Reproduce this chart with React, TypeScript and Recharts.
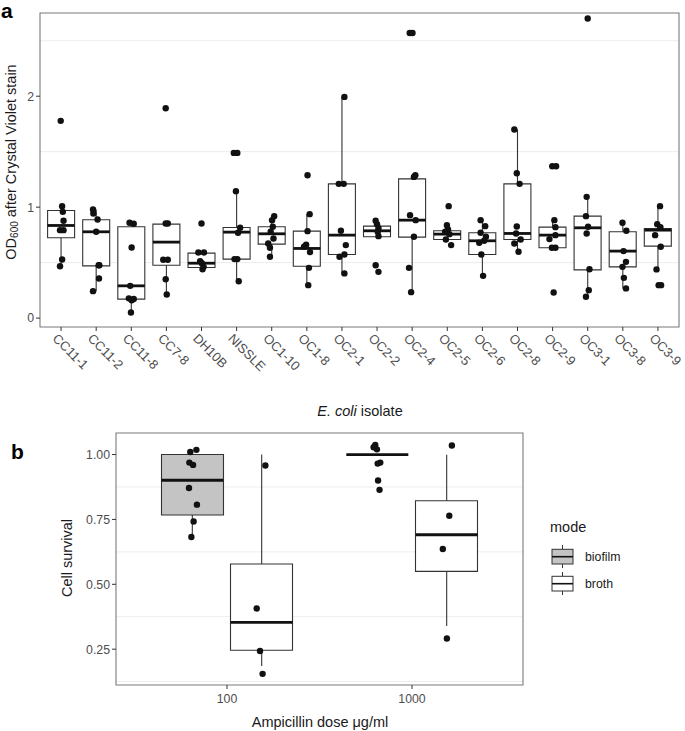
import React from 'react';
import {
  ComposedChart, Bar, Scatter, ErrorBar, XAxis, YAxis, CartesianGrid, ReferenceArea, Legend,
} from 'recharts';

// ---- panel a: OD600 per E. coli isolate ----
const isolates = ['CC11-1', 'CC11-2', 'CC11-8', 'CC7-8', 'DH10B', 'NISSLE', 'OC1-10', 'OC1-8', 'OC2-1', 'OC2-2', 'OC2-4', 'OC2-5', 'OC2-6', 'OC2-8', 'OC2-9', 'OC3-1', 'OC3-8', 'OC3-9'];
const odQ1 = [0.724, 0.471, 0.171, 0.477, 0.456, 0.532, 0.667, 0.468, 0.574, 0.733, 0.73, 0.709, 0.574, 0.709, 0.634, 0.435, 0.462, 0.649];
const odMedian = [0.835, 0.778, 0.291, 0.685, 0.495, 0.775, 0.76, 0.628, 0.748, 0.787, 0.883, 0.757, 0.697, 0.763, 0.748, 0.814, 0.604, 0.793];
const odQ3 = [0.97, 0.886, 0.823, 0.847, 0.586, 0.817, 0.823, 0.784, 1.21, 0.829, 1.255, 0.787, 0.769, 1.21, 0.82, 0.919, 0.778, 0.808];
const odLow = [0.47, 0.243, 0.051, 0.213, 0.441, 0.333, 0.553, 0.297, 0.403, 0.733, 0.234, 0.7, 0.381, 0.598, 0.634, 0.192, 0.268, 0.439];
const odHigh = [1.0, 0.98, 0.86, 0.853, 0.592, 1.144, 0.919, 0.937, 1.994, 0.877, 1.288, 0.84, 0.883, 1.7, 0.883, 1.093, 0.859, 1.009];
const odPoints = [
  [1.778, 1.009, 0.958, 0.877, 0.793, 0.793, 0.529, 0.468],
  [0.979, 0.943, 0.889, 0.778, 0.477, 0.477, 0.357, 0.243],
  [0.86, 0.85, 0.637, 0.291, 0.178, 0.172, 0.16, 0.051],
  [1.892, 0.853, 0.853, 0.526, 0.526, 0.351, 0.213],
  [0.853, 0.592, 0.592, 0.514, 0.495, 0.462, 0.441],
  [1.489, 1.489, 1.144, 0.814, 0.77, 0.532, 0.532, 0.333],
  [0.919, 0.883, 0.823, 0.778, 0.718, 0.673, 0.634, 0.553],
  [1.288, 0.937, 0.784, 0.661, 0.643, 0.595, 0.453, 0.297],
  [1.994, 1.21, 1.21, 0.787, 0.658, 0.574, 0.553, 0.403],
  [0.877, 0.847, 0.81, 0.778, 0.739, 0.477, 0.417],
  [2.57, 2.57, 1.288, 1.273, 0.928, 0.883, 0.733, 0.453, 0.234],
  [1.009, 0.838, 0.8, 0.757, 0.709, 0.658, 0.78],
  [0.883, 0.829, 0.769, 0.733, 0.697, 0.679, 0.574, 0.381],
  [1.7, 1.306, 1.21, 0.826, 0.763, 0.709, 0.673, 0.598],
  [1.369, 1.369, 0.883, 0.82, 0.748, 0.712, 0.634, 0.634, 0.231],
  [2.7, 1.093, 0.919, 0.823, 0.763, 0.441, 0.252, 0.192],
  [0.859, 0.787, 0.604, 0.507, 0.462, 0.363, 0.268],
  [1.009, 0.847, 0.82, 0.748, 0.643, 0.439, 0.297, 0.297],
];
// horizontal jitter of each point, in category units
const odJitter = [
  [-0.01, 0.03, 0.05, 0.07, -0.03, 0.07, 0.03, -0.03],
  [-0.09, -0.08, 0.04, 0, 0.07, 0.09, 0.08, -0.09],
  [-0.05, 0.07, 0.01, -0.03, -0.07, 0.07, 0.01, -0.01],
  [-0.02, -0.02, 0.04, -0.09, 0.04, -0.02, 0.01],
  [0, -0.09, 0.07, -0.04, 0.01, 0.06, 0.03],
  [-0.08, 0.02, -0.02, 0.1, 0.04, -0.06, 0.02, 0.06],
  [0.07, 0.01, 0.03, -0.03, 0.05, -0.1, -0.05, -0.05],
  [0.02, 0.08, 0.02, -0.02, -0.08, 0.09, 0.06, 0.04],
  [0.07, -0.09, 0.05, -0.03, 0.11, 0.07, -0.07, 0.07],
  [-0.04, 0, 0.04, 0.02, 0.04, -0.04, 0.04],
  [-0.07, 0.01, 0.09, 0.05, -0.06, 0.1, 0.05, -0.09, -0.03],
  [0.04, -0.01, 0.02, 0.06, -0.04, 0.11, -0.06],
  [-0.05, 0.08, -0.05, 0.1, 0.05, -0.09, -0.03, 0.02],
  [-0.09, -0.02, 0.06, -0.02, -0.04, 0.09, -0.09, 0.03],
  [-0.01, 0.1, 0.05, 0.08, 0.08, -0.09, -0.02, 0.08, 0.03],
  [0, -0.03, -0.05, 0.01, -0.03, 0.05, 0.03, -0.05],
  [-0.01, 0.1, 0.02, 0.09, -0.01, 0.03, 0.09],
  [0.06, -0.02, 0.07, -0.08, 0.08, -0.04, 0.02, 0.09],
];
const odTicks = [0, 1, 2];
const odMinorGrid = [0.5, 1.5, 2.5];
const odDomain = [-0.08, 2.75];

// ---- panel b: cell survival by ampicillin dose ----
const doses = ['100', '1000'];
const modes = ['biofilm', 'broth'];
const modeFills = ['#c4c4c4', '#ffffff'];
// groups in order: biofilm-100, broth-100, biofilm-1000, broth-1000
const groupDose = [0, 0, 1, 1];
const groupMode = [0, 1, 0, 1];
const survQ1 = [0.767, 0.246, 1.0, 0.55];
const survMedian = [0.901, 0.353, 1.0, 0.691];
const survQ3 = [1.0, 0.578, 1.0, 0.822];
const survLow = [0.69, 0.185, 1.0, 0.339];
const survHigh = [1.0, 1.0, 1.0, 0.999];
const survPoints = [
  [1.018, 1.01, 0.969, 0.96, 0.871, 0.807, 0.742, 0.682],
  [0.958, 0.407, 0.243, 0.155],
  [1.037, 1.028, 1.02, 0.969, 0.965, 0.9, 0.864],
  [1.035, 0.764, 0.636, 0.291],
];
const survJitter = [
  [0.022, -0.011, -0.016, 0.004, -0.018, 0.025, 0.007, -0.005],
  [0.02, -0.027, -0.009, 0.005],
  [-0.011, -0.02, -0.002, 0.016, 0.002, 0.004, 0.012],
  [0.028, 0.014, -0.021, 0.001],
];
const survTicks = [0.25, 0.5, 0.75, 1.0];
const survMinorGrid = [0.125, 0.375, 0.625, 0.875];
const survDomain = [0.112, 1.083];
const dodge = 0.1875;

// ---- derived tables ----
const boxA = isolates.map((name, i) => ({ name, box: [odQ1[i], odQ3[i]] }));
const medianA = isolates.map((_, i) => ({ x: i + 1, y: odMedian[i] }));
const upperA = isolates.map((_, i) => ({ x: i + 1, y: odQ3[i], err: [0, odHigh[i] - odQ3[i]] }));
const lowerA = isolates.map((_, i) => ({ x: i + 1, y: odQ1[i], err: [odQ1[i] - odLow[i], 0] }));
const pointsA = odPoints.flatMap((vals, i) => vals.map((v, j) => ({ x: i + 1 + odJitter[i][j], y: v })));

const groupIdx = (d: number, m: number) => groupDose.findIndex((gd, i) => gd === d && groupMode[i] === m);
const boxB = doses.map((name, d) => {
  const row: any = { name };
  modes.forEach((m, mi) => {
    const g = groupIdx(d, mi);
    row[m] = [survQ1[g], survQ3[g]];
  });
  return row;
});
const groupX = groupDose.map((d, i) => d + 1 + (groupMode[i] === 0 ? -dodge : dodge));
const medianB = groupX.map((x, i) => ({ x, y: survMedian[i] }));
const upperB = groupX.map((x, i) => ({ x, y: survQ3[i], err: [0, survHigh[i] - survQ3[i]] }));
const lowerB = groupX.map((x, i) => ({ x, y: survQ1[i], err: [survQ1[i] - survLow[i], 0] }));
const pointsB = survPoints.flatMap((vals, i) => vals.map((v, j) => ({ x: groupX[i] + survJitter[i][j], y: v })));

const INK = '#1a1a1a';
const TICK = '#4d4d4d';
const BORDER = '#7a7a7a';

const Dot = (p: any) => <circle cx={p.cx} cy={p.cy} r={3.2} fill="#111" />;
const Nothing = () => <g />;
const medianLine = (w: number) => (p: any) => (
  <line x1={p.cx - w / 2} x2={p.cx + w / 2} y1={p.cy} y2={p.cy} stroke="#111" strokeWidth={2.8} />
);

const IsolateTick = (p: any) => {
  const x = p.x - 6;
  const y = p.y + 3;
  return (
    <text x={x} y={y} transform={`rotate(45 ${x} ${y})`} textAnchor="start" dy="0.35em" fontSize={13} fill={TICK}>
      {isolates[p.payload.value - 1]}
    </text>
  );
};

const ModeLegend = () => (
  <svg width={110} height={85}>
    <text x={2} y={17} fontSize={14.5} fill={INK}>mode</text>
    {modes.map((m, i) => {
      const top = 30 + i * 27;
      return (
        <g key={m}>
          <line x1={14.5} x2={14.5} y1={top} y2={top + 23} stroke="#333" strokeWidth={1} />
          <rect x={4} y={top + 4.3} width={21} height={14.7} fill={modeFills[i]} stroke="#333" strokeWidth={1} />
          <line x1={4} x2={25} y1={top + 11.7} y2={top + 11.7} stroke="#111" strokeWidth={1.6} />
          <text x={37} y={top + 12} dy="0.35em" fontSize={12.3} fill={INK}>{m}</text>
        </g>
      );
    })}
  </svg>
);

const whisker = <ErrorBar dataKey="err" direction="y" width={0} stroke="#333" strokeWidth={1.1} isAnimationActive={false} />;

export default function App() {
  return (
    <div style={{ position: 'absolute', left: 0, top: 0, width: 685, height: 731, background: '#fff', fontFamily: '"Liberation Sans", Arial, sans-serif' }}>
      <div style={{ position: 'absolute', left: 0, top: 0 }}>
        <ComposedChart width={685} height={425} data={boxA} margin={{ top: 13, right: 6, bottom: 13, left: 0 }}>
          <CartesianGrid xAxisId="num" vertical={false} horizontalValues={odMinorGrid} stroke="#ececec" strokeWidth={1} />
          <XAxis xAxisId="cat" type="category" dataKey="name" hide orientation="top" height={0} padding={{ left: 3.6, right: 3.6 }} />
          <XAxis xAxisId="num" type="number" dataKey="x" domain={[0.4, 18.6]} ticks={isolates.map((_, i) => i + 1)} interval={0}
            allowDataOverflow axisLine={false} tickSize={4} tickLine={{ stroke: '#333' }} tick={<IsolateTick />} height={85} />
          <YAxis type="number" dataKey="y" domain={odDomain} ticks={odTicks} allowDataOverflow width={40}
            axisLine={false} tickSize={4} tickLine={{ stroke: '#333' }} tick={{ fontSize: 12.3, fill: TICK }} />
          <Bar xAxisId="cat" dataKey="box" barSize={27} fill="#fff" stroke="#333" strokeWidth={1.1} isAnimationActive={false} />
          <Scatter xAxisId="num" data={upperA} shape={Nothing} isAnimationActive={false}>{whisker}</Scatter>
          <Scatter xAxisId="num" data={lowerA} shape={Nothing} isAnimationActive={false}>{whisker}</Scatter>
          <Scatter xAxisId="num" data={medianA} shape={medianLine(27)} isAnimationActive={false} />
          <Scatter xAxisId="num" data={pointsA} shape={Dot} isAnimationActive={false} />
          <ReferenceArea xAxisId="num" x1={0.4} x2={18.6} y1={odDomain[0]} y2={odDomain[1]} fill="none" fillOpacity={0} stroke={BORDER} strokeWidth={1.1} />
        </ComposedChart>
      </div>

      <div style={{ position: 'absolute', left: 0, top: 420 }}>
        <ComposedChart width={685} height={311} data={boxB} barGap={7} margin={{ top: 13, right: 162, bottom: 16, left: 0 }}>
          <CartesianGrid xAxisId="num" vertical={false} horizontalValues={survMinorGrid} stroke="#ececec" strokeWidth={1} />
          <XAxis xAxisId="cat" type="category" dataKey="name" hide orientation="top" height={0} padding={{ left: 18.5, right: 18.5 }} />
          <XAxis xAxisId="num" type="number" dataKey="x" domain={[0.4, 2.6]} ticks={[1, 2]} interval={0} allowDataOverflow
            tickFormatter={(v: number) => doses[v - 1]} axisLine={false} tickSize={4} tickMargin={5} tickLine={{ stroke: '#333' }}
            tick={{ fontSize: 12.3, fill: TICK }} height={30} />
          <YAxis type="number" dataKey="y" domain={survDomain} ticks={survTicks} allowDataOverflow width={116}
            tickFormatter={(v: number) => v.toFixed(2)} axisLine={false} tickSize={4} tickLine={{ stroke: '#333' }}
            tick={{ fontSize: 12.3, fill: TICK }} />
          {modes.map((m, mi) => (
            <Bar key={m} xAxisId="cat" dataKey={m} barSize={62} fill={modeFills[mi]} stroke="#333" strokeWidth={1.1} isAnimationActive={false} />
          ))}
          <Scatter xAxisId="num" data={upperB} shape={Nothing} isAnimationActive={false}>{whisker}</Scatter>
          <Scatter xAxisId="num" data={lowerB} shape={Nothing} isAnimationActive={false}>{whisker}</Scatter>
          <Scatter xAxisId="num" data={medianB} shape={medianLine(62)} isAnimationActive={false} />
          <Scatter xAxisId="num" data={pointsB} shape={Dot} isAnimationActive={false} />
          <ReferenceArea xAxisId="num" x1={0.4} x2={2.6} y1={survDomain[0]} y2={survDomain[1]} fill="none" fillOpacity={0} stroke={BORDER} strokeWidth={1.1} />
          <Legend layout="vertical" align="center" verticalAlign="middle" content={<ModeLegend />}
            wrapperStyle={{ left: 548, top: 95, width: 110, height: 85 }} />
        </ComposedChart>
      </div>

      <svg width={685} height={731} style={{ position: 'absolute', left: 0, top: 0, pointerEvents: 'none' }}>
        <text x={1} y={18} fontSize={21} fontWeight="bold" fill="#000">a</text>
        <text x={11} y={162} transform="rotate(-90 11 162)" textAnchor="middle" dominantBaseline="central" fontSize={14.5} fill={INK}>
          OD<tspan fontSize={10} dy={3}>600</tspan><tspan dy={-3}> after Crystal Violet stain</tspan>
        </text>
        <text x={360} y={411} textAnchor="middle" dominantBaseline="central" fontSize={14.5} fill={INK}>
          <tspan fontStyle="italic">E. coli</tspan> isolate
        </text>
        <text x={11} y={459} fontSize={21} fontWeight="bold" fill="#000">b</text>
        <text x={67} y={558} transform="rotate(-90 67 558)" textAnchor="middle" dominantBaseline="central" fontSize={14.5} fill={INK}>
          Cell survival
        </text>
        <text x={320} y={722} textAnchor="middle" dominantBaseline="central" fontSize={14.5} fill={INK}>
          Ampicillin dose μg/ml
        </text>
      </svg>
    </div>
  );
}
